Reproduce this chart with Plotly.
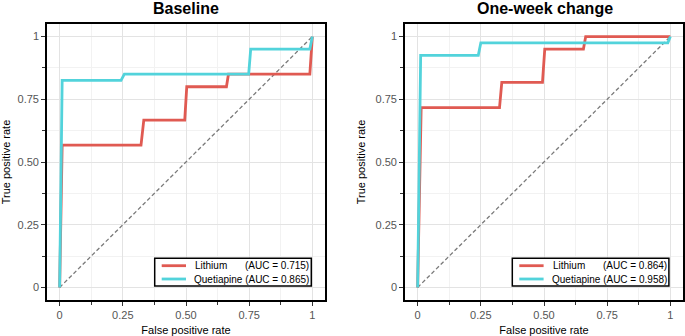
import plotly.graph_objects as go

# ---- data ----
titles = ["Baseline", "One-week change"]
series_names = ["Lithium", "Quetiapine"]
auc_base = [0.715, 0.865]
auc_week = [0.864, 0.958]

li_base_fpr = [0, 0.01, 0.322, 0.333, 0.495, 0.503, 0.66, 0.668, 0.99, 1.0]
li_base_tpr = [0, 0.567, 0.567, 0.667, 0.667, 0.80, 0.80, 0.85, 0.85, 1.0]
qu_base_fpr = [0, 0.01, 0.243, 0.256, 0.748, 0.756, 0.99, 1.0]
qu_base_tpr = [0, 0.825, 0.825, 0.85, 0.85, 0.95, 0.95, 1.0]

li_week_fpr = [0, 0.014, 0.324, 0.333, 0.494, 0.503, 0.656, 0.665, 1.0]
li_week_tpr = [0, 0.717, 0.717, 0.817, 0.817, 0.95, 0.95, 1.0, 1.0]
qu_week_fpr = [0, 0.012, 0.24, 0.25, 0.99, 1.0]
qu_week_tpr = [0, 0.925, 0.925, 0.975, 0.975, 1.0]

chance_fpr = [0, 1]
chance_tpr = [0, 1]

tick_vals = [0, 0.25, 0.5, 0.75, 1]
tick_text = ["0", "0.25", "0.50", "0.75", "1"]

RED = "#E05A52"
CYAN = "#52D3DB"
COLORS = [RED, CYAN]
FONT = "Liberation Sans, Arial, sans-serif"
W, H = 685, 336


def px(x):
    return x / W


def py(y):
    return 1 - y / H


fig = go.Figure()

panels = [
    ("x", "y", [(li_base_fpr, li_base_tpr), (qu_base_fpr, qu_base_tpr)], auc_base, 0.0, 186),
    ("x2", "y2", [(li_week_fpr, li_week_tpr), (qu_week_fpr, qu_week_tpr)], auc_week, 357.6, 545),
]

shapes = []
annotations = []
for (xa, ya, curves, aucs, off, tx), title in zip(panels, titles):
    fig.add_trace(go.Scatter(x=chance_fpr, y=chance_tpr, mode="lines", xaxis=xa, yaxis=ya,
                             line=dict(color="#7a7a7a", width=1.3, dash="4px,2.5px"),
                             showlegend=False, hoverinfo="skip"))
    for (fx, ty), col, nm in zip(curves, COLORS, series_names):
        fig.add_trace(go.Scatter(x=fx, y=ty, mode="lines", xaxis=xa, yaxis=ya,
                                 line=dict(color=col, width=2.8),
                                 name=nm, showlegend=False))
    # title
    annotations.append(dict(text="<b>%s</b>" % title, x=px(tx), y=py(8), xref="paper", yref="paper",
                            xanchor="center", yanchor="middle", showarrow=False,
                            font=dict(family=FONT, size=16, color="black")))
    # custom compact legend
    shapes.append(dict(type="rect", xref="paper", yref="paper",
                       x0=px(154.7 + off), x1=px(311.3 + off), y0=py(258.3), y1=py(286),
                       line=dict(color="black", width=1.5), fillcolor="white", layer="above"))
    rows = [265.7, 279.0]
    for r, col in zip(rows, COLORS):
        shapes.append(dict(type="line", xref="paper", yref="paper",
                           x0=px(161.7 + off), x1=px(186 + off), y0=py(r), y1=py(r),
                           line=dict(color=col, width=2.8), layer="above"))
    lfont = dict(family=FONT, size=10, color="black")
    annotations.append(dict(text=series_names[0], x=px(193.5 + off), y=py(rows[0]), xref="paper", yref="paper",
                            xanchor="left", yanchor="middle", showarrow=False, font=lfont))
    annotations.append(dict(text="(AUC = %.3f)" % aucs[0], x=px(243.3 + off), y=py(rows[0]), xref="paper",
                            yref="paper", xanchor="left", yanchor="middle", showarrow=False, font=lfont))
    annotations.append(dict(text="%s (AUC = %.3f)" % (series_names[1], aucs[1]), x=px(192.3 + off),
                            y=py(rows[1]), xref="paper", yref="paper",
                            xanchor="left", yanchor="middle", showarrow=False, font=lfont))

axis_common = dict(
    range=[-0.05, 1.05], tickvals=tick_vals, ticktext=tick_text, automargin=False,
    showline=True, linecolor="black", linewidth=1.6, mirror=True,
    ticks="outside", ticklen=4, tickcolor="#333333", tickwidth=1,
    tickfont=dict(family=FONT, size=11, color="#555555"),
    showgrid=True, gridcolor="#e3e3e3", gridwidth=1, zeroline=False,
    minor=dict(tickvals=[0.125, 0.375, 0.625, 0.875], ticks="outside", ticklen=3,
               tickcolor="#333333", showgrid=True, gridcolor="#f2f2f2", gridwidth=1),
    title_font=dict(family=FONT, size=11, color="black"),
)

fig.update_layout(
    width=W, height=H,
    margin=dict(l=0, r=0, t=0, b=0, autoexpand=False),
    plot_bgcolor="white", paper_bgcolor="white",
    font=dict(family=FONT, size=11, color="black"),
    showlegend=False,
    xaxis=dict(domain=[px(47), px(325)], anchor="y", title=dict(text="False positive rate", standoff=11), **axis_common),
    yaxis=dict(domain=[py(300), py(24)], anchor="x", title=dict(text="True positive rate", standoff=8), **axis_common),
    xaxis2=dict(domain=[px(405), px(683)], anchor="y2", title=dict(text="False positive rate", standoff=11), **axis_common),
    yaxis2=dict(domain=[py(300), py(24)], anchor="x2", title=dict(text="True positive rate", standoff=8), **axis_common),
    shapes=shapes,
    annotations=annotations,
)

fig.write_html("out.html", config={"displayModeBar": False},
               post_script="document.body.style.margin='0';document.body.style.overflow='hidden';")
